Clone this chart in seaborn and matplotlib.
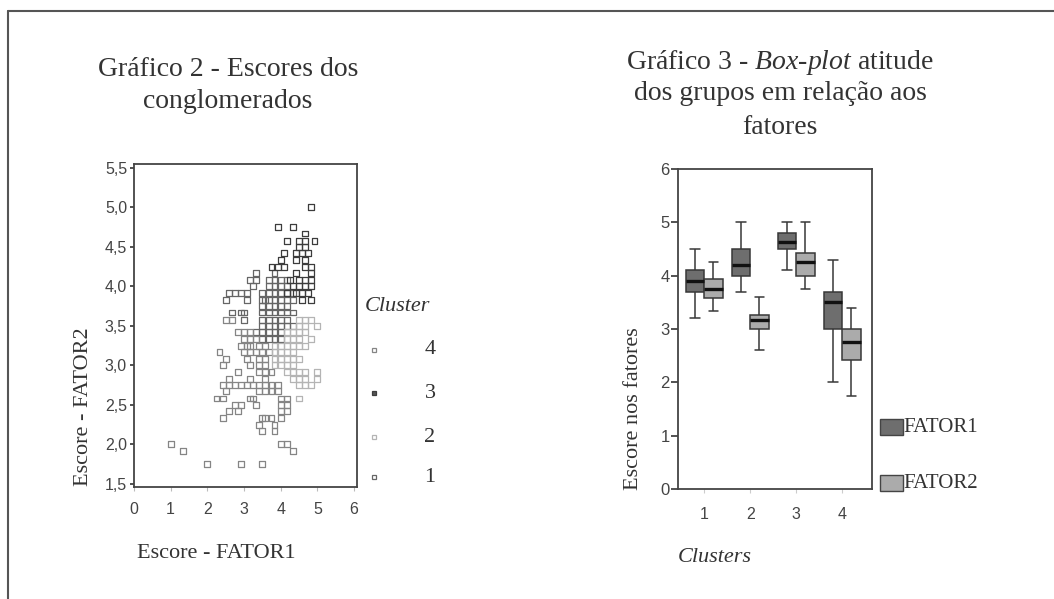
import numpy as np
import pandas as pd
import matplotlib
matplotlib.use("Agg")
import matplotlib.pyplot as plt
from matplotlib.lines import Line2D
from matplotlib.patches import Rectangle
import seaborn as sns

# --- scatter data (Escore FATOR1 x FATOR2)
c3_x = [4.83, 3.92, 4.33, 4.67, 4.17, 4.5, 4.67, 4.92, 4.5, 4.67, 4.08, 4.42, 4.58, 4.75,
        4.0, 4.42, 4.67, 3.75, 3.92, 4.08, 4.67, 4.83, 4.42, 4.83, 4.25, 4.5, 4.67, 4.83,
        4.33, 4.5, 4.67, 4.83, 4.17, 4.42, 4.58, 4.75, 4.58, 4.83]
c3_y = [5.0, 4.75, 4.75, 4.67, 4.58, 4.58, 4.58, 4.58, 4.5, 4.5, 4.42, 4.42, 4.42, 4.42,
        4.33, 4.33, 4.33, 4.25, 4.25, 4.25, 4.25, 4.25, 4.17, 4.17, 4.08, 4.08, 4.08, 4.08,
        4.0, 4.0, 4.0, 4.0, 3.92, 3.92, 3.92, 3.92, 3.83, 3.83]

c1_x = [3.33, 3.83,
        3.17, 3.33, 3.67, 3.83, 4.0, 4.17,
        3.25, 3.67, 3.83, 4.0, 4.17,
        2.58, 2.75, 2.92, 3.08, 3.5, 3.67, 3.83, 4.0, 4.17, 4.33,
        2.5, 3.08, 3.5, 3.58, 3.67, 3.83, 4.0, 4.17, 4.33,
        3.5, 3.67, 3.83, 4.0, 4.17,
        2.67, 2.92, 3.0, 3.5, 3.67, 3.83, 4.0, 4.17, 4.33,
        3.0, 3.5, 3.67, 3.83, 4.0, 4.17,
        3.5, 3.67, 3.83, 4.0, 4.17, 4.33,
        3.33, 3.5, 3.67, 3.83, 4.0,
        3.5, 3.67, 3.83, 4.0]
c1_y = [4.17] * 2 + [4.08] * 6 + [4.0] * 5 + [3.92] * 10 + [3.83] * 9 + [3.75] * 5 \
    + [3.67] * 9 + [3.58] * 6 + [3.5] * 6 + [3.42] * 5 + [3.33] * 4

c2_x = [4.5, 4.67, 4.83,
        4.5, 4.67, 5.0,
        4.17, 4.33, 4.5, 4.67,
        4.17, 4.33, 4.5, 4.83,
        3.83, 4.0, 4.17, 4.33, 4.5, 4.67,
        3.83, 4.0, 4.17, 4.33,
        3.83, 4.0, 4.17, 4.33, 4.5,
        3.83, 4.0, 4.17, 4.33,
        4.17, 4.33, 4.5, 4.67, 5.0,
        4.33, 4.5, 4.67, 5.0,
        4.5, 4.67, 4.83,
        4.5]
c2_y = [3.58] * 3 + [3.5] * 3 + [3.42] * 4 + [3.33] * 4 + [3.25] * 6 + [3.17] * 4 \
    + [3.08] * 5 + [3.0] * 4 + [2.92] * 5 + [2.83] * 4 + [2.75] * 3 + [2.58]

c4_x = [2.5, 2.67,
        2.83, 3.0, 3.17,
        3.0, 3.17, 3.33,
        2.92, 3.08, 3.17, 3.42, 3.58,
        2.33, 3.0, 3.17, 3.33, 3.5, 3.67,
        2.5, 3.08, 3.42, 3.58,
        2.42, 3.17, 3.42, 3.58,
        2.83, 3.42, 3.58, 3.75,
        2.58, 3.17, 3.58,
        2.42, 2.58, 2.75, 2.92, 3.08, 3.25, 3.42, 3.58, 3.75, 3.92,
        2.5, 3.42, 3.58, 3.75, 3.92,
        2.25, 2.42, 3.17, 3.25, 4.0, 4.17,
        2.75, 2.92, 3.33, 4.0, 4.17,
        2.58, 2.83, 4.0, 4.17,
        2.42, 3.5, 3.58, 3.75, 4.0,
        3.42, 3.83,
        3.5, 3.83,
        1.0, 4.0, 4.17,
        1.33, 4.33,
        2.0, 2.92, 3.5]
c4_y = [3.58] * 2 + [3.42] * 3 + [3.33] * 3 + [3.25] * 5 + [3.17] * 6 + [3.08] * 4 \
    + [3.0] * 4 + [2.92] * 4 + [2.83] * 3 + [2.75] * 10 + [2.67] * 5 + [2.58] * 6 \
    + [2.5] * 5 + [2.42] * 4 + [2.33] * 5 + [2.25] * 2 + [2.17] * 2 + [2.0] * 3 \
    + [1.92] * 2 + [1.75] * 3

cluster_colors = {"1": "#666666", "2": "#b4b4b4", "3": "#3c3c3c", "4": "#858585"}

# --- box-plot data: [min, Q1, median, Q3, max] per cluster
clusters = ["1", "2", "3", "4"]
fator1 = [[3.2, 3.7, 3.9, 4.1, 4.5],
          [3.7, 4.0, 4.2, 4.5, 5.0],
          [4.1, 4.5, 4.63, 4.8, 5.0],
          [2.0, 3.0, 3.5, 3.7, 4.3]]
fator2 = [[3.33, 3.58, 3.75, 3.93, 4.25],
          [2.6, 3.0, 3.17, 3.27, 3.6],
          [3.75, 4.0, 4.25, 4.42, 5.0],
          [1.75, 2.42, 2.75, 3.0, 3.4]]
fator_colors = {"FATOR1": "#6e6e6e", "FATOR2": "#ababab"}

W, H = 1054, 599
def fx(px):
    return px / W
def fy(py):
    return 1 - py / H

sns.set_style("white")
plt.rcParams["font.family"] = ["Liberation Sans", "DejaVu Sans"]
plt.rcParams["mathtext.fontset"] = "custom"
plt.rcParams["mathtext.rm"] = "Liberation Serif"
plt.rcParams["mathtext.it"] = "Liberation Serif:italic"
serif = ["Liberation Serif", "DejaVu Serif"]
TXT = "#333333"

fig = plt.figure(figsize=(W / 100, H / 100), dpi=100)
fig.patch.set_facecolor("white")

# ---------- scatter ----------
sc = pd.concat([
    pd.DataFrame({"f1": c1_x, "f2": c1_y, "cluster": "1"}),
    pd.DataFrame({"f1": c4_x, "f2": c4_y, "cluster": "4"}),
    pd.DataFrame({"f1": c2_x, "f2": c2_y, "cluster": "2"}),
    pd.DataFrame({"f1": c3_x, "f2": c3_y, "cluster": "3"}),
], ignore_index=True)

ax1 = fig.add_axes([fx(134), fy(487), fx(357 - 134), (487 - 164) / H])
sns.scatterplot(data=sc, x="f1", y="f2", hue="cluster", palette=cluster_colors,
                marker="s", s=18, linewidth=0.9, legend=False, ax=ax1)
pts = ax1.collections[0]
pts.set_edgecolors(pts.get_facecolors())
pts.set_facecolors("none")

ax1.set_xlim(0, 6.08)
ax1.set_ylim(1.46, 5.55)
ax1.set_xticks(range(0, 7))
ax1.set_yticks(np.arange(1.5, 5.51, 0.5))
ax1.set_yticklabels([f"{v:.1f}".replace(".", ",") for v in np.arange(1.5, 5.51, 0.5)])
ax1.set_xlabel("")
ax1.set_ylabel("")
for sp in ax1.spines.values():
    sp.set_color("#444444")
    sp.set_linewidth(1.3)
ax1.tick_params(axis="y", direction="out", length=3, width=1.2, color="#333333",
                labelsize=11.5, labelcolor="#444444", pad=2, left=True)
ax1.tick_params(axis="x", direction="out", length=3, width=0.8, color="#bbbbbb",
                labelsize=11.5, labelcolor="#444444", pad=8, bottom=True)

# scatter legend
fig.text(fx(365), fy(307), "Cluster", family=serif, style="italic", fontsize=16,
         ha="left", va="center", color=TXT)
for lab, py in zip(["4", "3", "2", "1"], [350, 393, 437, 477]):
    col = cluster_colors[lab]
    fig.add_artist(Line2D([fx(374)], [fy(py)], marker="s", markersize=3.5,
                          markerfacecolor="#555555" if lab == "3" else "none",
                          markeredgecolor=col, markeredgewidth=0.9, linestyle="none"))
    fig.text(fx(430), fy(py), lab, family=serif, fontsize=16, ha="center", va="center",
             color=TXT)

# ---------- box plot ----------
rows = []
for cl, a, b in zip(clusters, fator1, fator2):
    for v in a:
        rows.append({"cluster": cl, "fator": "FATOR1", "score": v})
    for v in b:
        rows.append({"cluster": cl, "fator": "FATOR2", "score": v})
bx = pd.DataFrame(rows)

ax2 = fig.add_axes([fx(678), fy(489), fx(872 - 678), (489 - 169) / H])
sns.boxplot(data=bx, x="cluster", y="score", hue="fator", palette=fator_colors,
            saturation=1, width=0.8, gap=0, whis=(0, 100), linewidth=1.1,
            linecolor="#383838", legend=False,
            medianprops=dict(color="#111111", linewidth=2.4), ax=ax2)
ax2.set_xlim(-0.57, 3.65)
ax2.set_ylim(0, 6)
ax2.set_yticks(range(0, 7))
ax2.set_xlabel("")
ax2.set_ylabel("")
for sp in ax2.spines.values():
    sp.set_color("#444444")
    sp.set_linewidth(1.3)
ax2.tick_params(axis="y", direction="out", length=5, width=1.2, color="#333333",
                labelsize=12, labelcolor="#444444", pad=1, left=True)
ax2.tick_params(axis="x", direction="out", length=3, width=0.8, color="#cccccc",
                labelsize=11.5, labelcolor="#444444", pad=10, bottom=True)

# box legend
for lab, py in zip(["FATOR1", "FATOR2"], [427, 483]):
    fig.add_artist(Rectangle((fx(880), fy(py + 8)), fx(23), 16 / H,
                             facecolor=fator_colors[lab], edgecolor="#444444",
                             linewidth=1.0, transform=fig.transFigure))
    fig.text(fx(903), fy(py), lab, family=serif, fontsize=15, ha="left", va="center",
             color=TXT)

# ---------- titles and axis labels ----------
fig.text(fx(228), fy(76), "Gráfico 2 - Escores dos", family=serif, fontsize=20,
         ha="center", va="baseline", color=TXT)
fig.text(fx(228), fy(108), "conglomerados", family=serif, fontsize=20,
         ha="center", va="baseline", color=TXT)

fig.text(fx(780), fy(69), r"Gráfico 3 - $\mathit{Box}$-$\mathit{plot}$ atitude",
         family=serif, fontsize=20, ha="center", va="baseline", color=TXT)
fig.text(fx(780), fy(100), "dos grupos em relação aos", family=serif, fontsize=20,
         ha="center", va="baseline", color=TXT)
fig.text(fx(780), fy(134), "fatores", family=serif, fontsize=20,
         ha="center", va="baseline", color=TXT)

fig.text(fx(84), fy(486), "Escore - FATOR2", family=serif, fontsize=16, rotation=90,
         ha="center", va="bottom", color=TXT)
fig.text(fx(216), fy(553), "Escore - FATOR1", family=serif, fontsize=16,
         ha="center", va="center", color=TXT)
fig.text(fx(633), fy(490), "Escore nos fatores", family=serif, fontsize=16, rotation=90,
         ha="center", va="bottom", color=TXT)
fig.text(fx(715), fy(557), "Clusters", family=serif, style="italic", fontsize=16,
         ha="center", va="center", color=TXT)

# page frame (top and left edges)
fig.add_artist(Line2D([fx(8), 1.0], [fy(11), fy(11)], color="#555555", linewidth=1.5))
fig.add_artist(Line2D([fx(8), fx(8)], [fy(11), 0.0], color="#555555", linewidth=1.5))

fig.savefig("out.png", dpi=100)
